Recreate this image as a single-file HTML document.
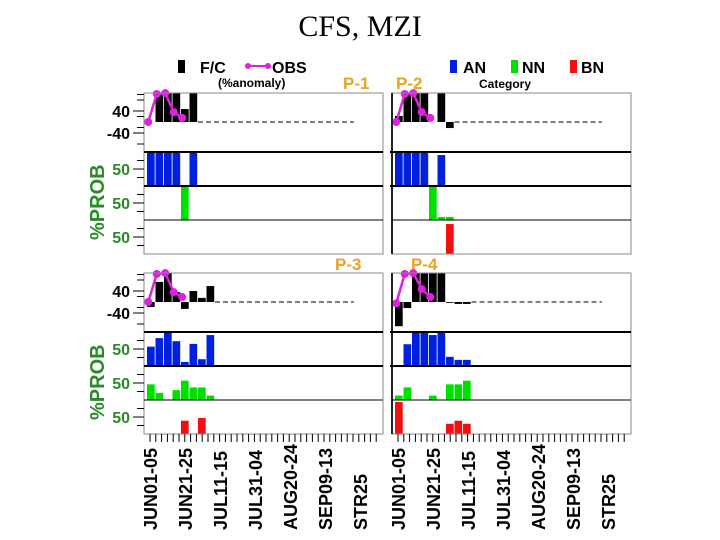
<!DOCTYPE html>
<html><head><meta charset="utf-8"><style>
body{margin:0;background:#fff;}
svg{display:block;font-family:"Liberation Sans",sans-serif;}
</style></head><body>
<svg id="c" width="720" height="540">
<text x="360" y="36" text-anchor="middle" font-family="Liberation Serif" font-size="30">CFS, MZI</text>
<g font-weight="bold">
<rect x="178" y="60" width="7" height="13" fill="#000"/>
<text x="200" y="73" font-size="16">F/C</text>
<line x1="248" y1="66" x2="268" y2="66" stroke="#e020e0" stroke-width="2"/>
<circle cx="248" cy="66" r="3" fill="#e020e0"/><circle cx="268" cy="66" r="3" fill="#e020e0"/>
<text x="272" y="73" font-size="16">OBS</text>
<text x="218" y="87" font-size="12">(%anomaly)</text>
<rect x="450" y="60" width="7" height="13" fill="#0020e0"/>
<text x="463" y="73" font-size="16">AN</text>
<rect x="511" y="60" width="7" height="13" fill="#00e000"/>
<text x="522" y="73" font-size="16">NN</text>
<rect x="570" y="60" width="7" height="13" fill="#f01010"/>
<text x="581" y="73" font-size="16">BN</text>
<text x="479" y="88" font-size="12">Category</text>
</g>
<g fill="#f0a020" font-weight="bold" font-size="17">
<text x="343" y="89">P-1</text>
<text x="396" y="89">P-2</text>
<text x="335" y="270">P-3</text>
<text x="411" y="270">P-4</text>
</g>
<g fill="#2a8a2a" font-weight="bold" font-size="20">
<text transform="translate(104,240) rotate(-90)">%PROB</text>
<text transform="translate(104,420) rotate(-90)">%PROB</text>
</g>
</svg>
<script>
const cats=["JUN01-05","JUN21-25","JUL11-15","JUL31-04","AUG20-24","SEP09-13","STR25"];
const obs=[0,102,105,36,15];
const p1_fc=[0,110,110,110,47,110];
const p1_an=[100,100,100,100,0,100];
const p1_nn=[0,0,0,0,100,0];
const p1_bn=[0,0,0,0,0,0];
const p2_fc=[22,110,110,110,0,110,-22];
const p2_an=[100,100,100,100,0,91,0];
const p2_nn=[0,0,0,0,100,9,9];
const p2_bn=[0,0,0,0,0,0,88];
const p3_fc=[-18,73,105,36,-25,40,15,58];
const p3_an=[57,82,100,73,12,65,20,91];
const p3_nn=[46,21,0,29,57,37,37,13];
const p3_bn=[0,0,0,0,39,0,47,0];
const p4_fc=[-88,-22,105,105,105,105,-3,-7,-7];
const p4_an=[0,64,100,100,91,100,27,18,18];
const p4_nn=[13,37,0,0,13,0,46,46,57];
const p4_bn=[94,0,0,0,0,0,30,39,30];
const obs4=[-5,102,109,47,18];
const panels=[
 {n:'p1',x:144,y:93,fc:p1_fc,an:p1_an,nn:p1_nn,bn:p1_bn,obs:obs,left:true},
 {n:'p2',x:392,y:93,fc:p2_fc,an:p2_an,nn:p2_nn,bn:p2_bn,obs:obs,left:false},
 {n:'p3',x:144,y:273,fc:p3_fc,an:p3_an,nn:p3_nn,bn:p3_bn,obs:[0,102,109,36,18],left:true},
 {n:'p4',x:392,y:273,fc:p4_fc,an:p4_an,nn:p4_nn,bn:p4_bn,obs:obs4,left:false}];
const svg=document.getElementById('c');
const NS='http://www.w3.org/2000/svg';
function mk(t,a,p){const e=document.createElementNS(NS,t);for(const k in a)e.setAttribute(k,a[k]);(p||svg).appendChild(e);return e;}
const W=239, AH=59, RH=34, SW=8.5;
panels.forEach(P=>{
 const g=mk('g',{});
 
 
 const zero=P.y+29;
 const yA=v=>zero-Math.max(-105,Math.min(105,v))*0.275;
 const xs=i=>P.x+3+SW*i;
 P.fc.forEach((v,i)=>{ if(!v)return;
  const y1=yA(v);const r=mk('rect',{x:xs(i),y:Math.min(y1,zero),width:SW-0.8,height:Math.abs(y1-zero),fill:'#000'},g);
  
  
 });
 mk('line',{x1:xs(P.fc.length),y1:zero,x2:P.x+210,y2:zero,stroke:'#555','stroke-dasharray':'5,3','stroke-width':1.5},g);
 const pts=P.obs.map((v,i)=>(xs(i)+SW/2-3)+','+yA(v)).join(' ');
 const pl=mk('polyline',{points:pts,fill:'none',stroke:'#e020e0','stroke-width':2.5},g);
 
 
 P.obs.forEach((v,i)=>{const c=mk('circle',{cx:xs(i)+SW/2-3,cy:yA(v),r:4,fill:'#e020e0'},g);
  
  });
 [[P.an,'#0020e0','an'],[P.nn,'#00e000','nn'],[P.bn,'#f01010','bn']].forEach((row,k)=>{
  const top=P.y+AH+k*RH, bot=top+RH;
  row[0].forEach((v,i)=>{ if(!v)return;
   const h=v/100*RH;const r=mk('rect',{x:xs(i),y:bot-h,width:SW-0.8,height:h,fill:row[1]},g);
   
   
  });
  if(P.left){const t=mk('text',{x:130,y:top+RH/2+6,'text-anchor':'end','font-size':16,'font-weight':'bold',fill:'#2a8a2a'},svg);t.textContent='50';
   
   
   mk('line',{x1:133,y1:top+RH/2,x2:P.x,y2:top+RH/2,stroke:'#000'});
   [0.25,0.75].forEach(f=>mk('line',{x1:137,y1:top+RH*f,x2:P.x,y2:top+RH*f,stroke:'#000'}));}
 });
 mk('rect',{x:P.x,y:P.y,width:W,height:AH+3*RH,fill:'none',stroke:'#888'},g);
 mk('line',{x1:P.x,y1:P.y,x2:P.x,y2:P.y+AH+3*RH,stroke:P.left?'#888':'#222','stroke-width':P.left?1:2},g);
 mk('line',{x1:P.x-(P.left?0:2),y1:P.y+AH,x2:P.x+W,y2:P.y+AH,stroke:'#000','stroke-width':2},g);
 mk('line',{x1:P.x-(P.left?0:2),y1:P.y+AH+RH,x2:P.x+W,y2:P.y+AH+RH,stroke:'#000','stroke-width':2},g);
 mk('line',{x1:P.x,y1:P.y+AH+2*RH,x2:P.x+W,y2:P.y+AH+2*RH,stroke:'#000','stroke-width':1},g);
 if(P.left){
  [['40',40],['-40',-40]].forEach(([s,v])=>{const t=mk('text',{x:130,y:yA(v)+6,'text-anchor':'end','font-size':16,'font-weight':'bold'});t.textContent=s;
   
   
   mk('line',{x1:133,y1:yA(v),x2:P.x,y2:yA(v),stroke:'#000'});});
  [100,80,20,-20,-80].forEach(v=>mk('line',{x1:137,y1:yA(v),x2:P.x,y2:yA(v),stroke:'#000'}));
 }
});
[144,392].forEach((x0,pi)=>{
 const by=433;
 for(let t=0;t<40;t++){const x=x0+6+t*5.8; if(x>x0+W)break; mk('line',{x1:x,y1:by+1,x2:x,y2:by+9,stroke:'#000'});}
 cats.forEach((c,i)=>{const x=x0+6+i*35+7;
  const t=mk('text',{transform:`translate(${x},530) rotate(-90)`,'font-size':18,'font-weight':'bold'});
  t.textContent=c;
  
  });
});
</script>
</body></html>
